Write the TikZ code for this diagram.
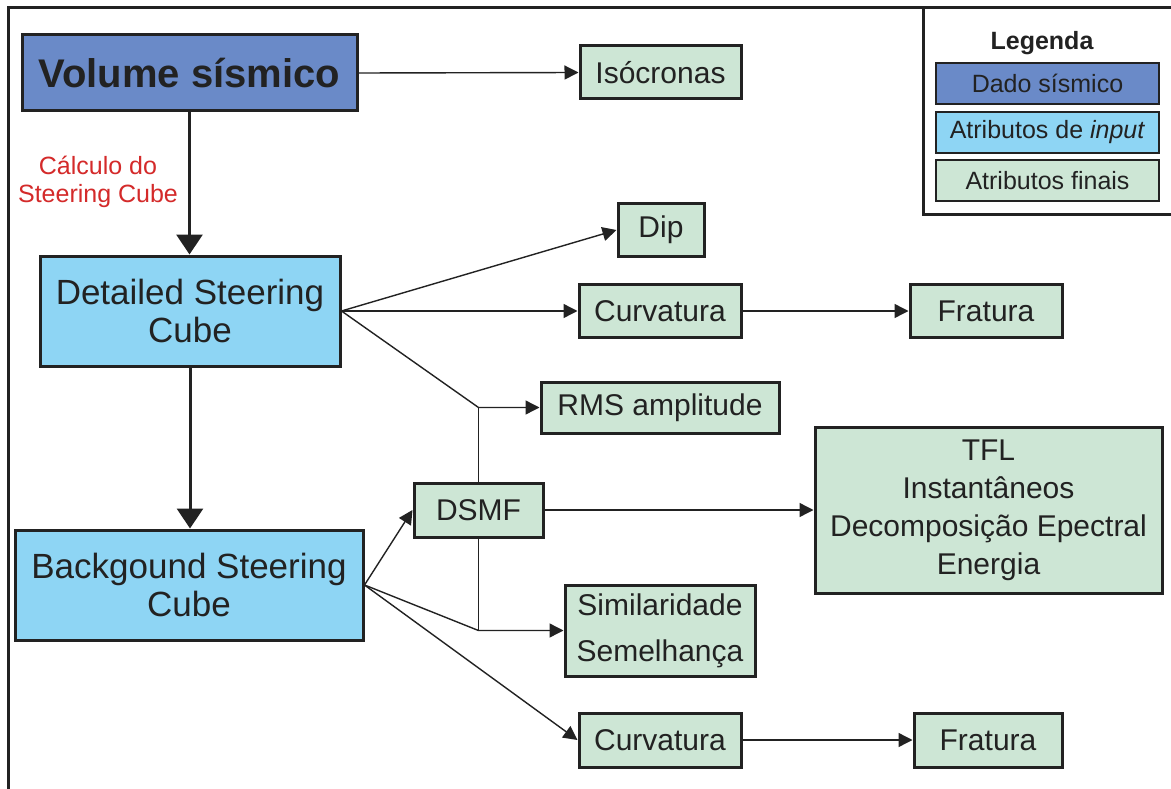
\documentclass[tikz,border=0pt]{standalone}
\usepackage{fontspec}
\setmainfont{Liberation Sans}
\usetikzlibrary{arrows.meta,calc}
\definecolor{dblue}{HTML}{6A8AC8}
\definecolor{lblue}{HTML}{8ED5F4}
\definecolor{lgreen}{HTML}{CDE6D5}
\definecolor{ink}{HTML}{222222}
\definecolor{redtxt}{HTML}{D42A2A}
\begin{document}
\begin{tikzpicture}[x=1pt,y=-1pt,
 box/.style={draw=ink, line width=3pt, inner sep=0pt, align=center, text=ink},
 gbox/.style={box, fill=lgreen, font=\fontsize{30}{38}\selectfont},
 bbox/.style={box, fill=lblue, font=\fontsize{35}{38}\selectfont},
 lbox/.style={box, line width=1.5pt, minimum width=223pt, minimum height=41pt, font=\fontsize{25}{30}\selectfont},
 thinarr/.style={draw=ink, line width=1.4pt, -{Triangle[length=14pt,width=14pt]}},
 plainline/.style={draw=ink, line width=1.4pt},
 thickarr/.style={draw=ink, line width=3pt, -{Triangle[length=20pt,width=26pt]}}]
\clip (0,0) rectangle (1171,789);
\fill[white] (0,0) rectangle (1171,789);
\draw[ink, line width=3pt] (8,8) rectangle (1200,820);
% legend
\draw[ink, line width=3pt] (923,8) -- (923,215) -- (1200,215);
\node[text=ink, font=\bfseries\fontsize{25}{30}\selectfont] (legt) at (1042,43) {Legenda};
\node[lbox, fill=dblue] (l1) at (1047.5,83.5) {Dado sísmico};
\node[lbox, fill=lblue] (l2) at (1047.5,132.5) {Atributos de \textit{input}};
\node[lbox, fill=lgreen] (l3) at (1047.5,180.5) {Atributos finais};
% main nodes
\node[box, fill=dblue, minimum width=335pt, minimum height=76pt, font=\bfseries\fontsize{40}{44}\selectfont] (vol) at (189.5,73) {Volume sísmico};
\node[gbox, minimum width=161pt, minimum height=53pt] (iso) at (660.5,72.5) {Isócronas};
\node[text=redtxt, align=center, font=\fontsize{25}{28}\selectfont] (calc) at (98,182) {Cálculo do\\Steering Cube};
\node[bbox, minimum width=300pt, minimum height=110pt] (det) at (190,311) {Detailed Steering\\Cube};
\node[gbox, minimum width=86pt, minimum height=53pt] (dip) at (661,230) {Dip};
\node[gbox, minimum width=162pt, minimum height=53pt] (curv1) at (660,311) {Curvatura};
\node[gbox, minimum width=152pt, minimum height=53pt] (frat1) at (986,311) {Fratura};
\node[gbox, minimum width=238pt, minimum height=51pt] (rms) at (660,407.5) {RMS amplitude};
\node[gbox, minimum width=129pt, minimum height=54pt] (dsmf) at (478.5,510) {DSMF};
\node[gbox, minimum width=347pt, minimum height=166pt] (tfl) at (988.5,510) {TFL\\Instantâneos\\Decomposição Epectral\\Energia};
\node[bbox, minimum width=348pt, minimum height=110pt] (bg) at (189,585) {Backgound Steering\\Cube};
\node[gbox, minimum width=190pt, minimum height=91pt, font=\fontsize{30}{46}\selectfont] (sim) at (660,630.5) {Similaridade\\Semelhança};
\node[gbox, minimum width=162pt, minimum height=54pt] (curv2) at (660,740) {Curvatura};
\node[gbox, minimum width=148pt, minimum height=54pt] (frat2) at (988,740) {Fratura};
\coordinate (j1) at (dsmf.north |- rms.west);
\coordinate (j2) at (dsmf.south |- sim.west);
% connectors
\draw[thinarr] (vol.east) -- (iso.west);
\draw[thickarr] (vol.south) -- (vol.south |- det.north);
\draw[thinarr] (det.east) -- (dip.west);
\draw[thinarr] (det.east) -- (curv1.west);
\draw[thinarr] (curv1.east) -- (frat1.west);
\draw[thinarr] (det.east) -- (j1) -- (rms.west);
\draw[plainline] (j1) -- (dsmf.north);
\draw[thickarr] (det.south) -- (det.south |- bg.north);
\draw[thinarr] (bg.east) -- (dsmf.west);
\draw[thinarr] (dsmf.east) -- (tfl.west);
\draw[plainline] (dsmf.south) -- (j2);
\draw[thinarr] (bg.east) -- (j2) -- (sim.west);
\draw[thinarr] (bg.east) -- (curv2.west);
\draw[thinarr] (curv2.east) -- (frat2.west);
\end{tikzpicture}
\end{document}
